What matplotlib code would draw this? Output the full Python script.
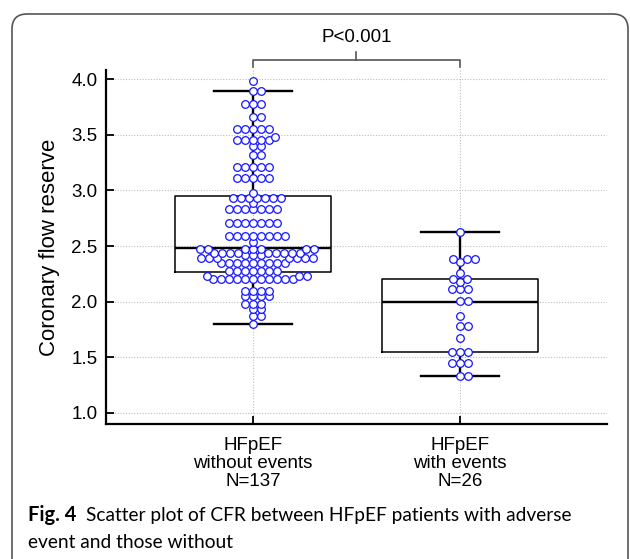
import numpy as np
import matplotlib
matplotlib.use("Agg")
import matplotlib.pyplot as plt
from matplotlib.patches import FancyBboxPatch
from matplotlib.transforms import blended_transform_factory

group_labels = ["HFpEF\nwithout events\nN=137", "HFpEF\nwith events\nN=26"]
positions = [1, 2]

no_event_levels = [3.98, 3.89, 3.78, 3.66, 3.55, 3.48, 3.45, 3.40, 3.32, 3.21, 3.11,
                   2.98, 2.93, 2.89, 2.83, 2.71, 2.59, 2.54,
                   2.47, 2.44, 2.42, 2.39, 2.35, 2.28, 2.23, 2.20, 2.10, 2.05,
                   1.98, 1.93, 1.87, 1.80]
no_event_counts = [1, 2, 3, 2, 5, 1, 5, 2, 2, 5, 5,
                   1, 7, 1, 7, 7, 8, 1,
                   7, 9, 3, 7, 9, 7, 3, 11, 4, 4,
                   3, 2, 2, 1]
event_levels = [2.63, 2.38, 2.36, 2.26, 2.20, 2.18, 2.11, 2.01, 1.87, 1.78, 1.67, 1.55, 1.45, 1.33]
event_counts = [1, 3, 1, 1, 2, 1, 3, 2, 1, 2, 1, 3, 3, 2]

# box plot summary as drawn in the figure
box_low = [1.80, 1.33]
box_q1 = [2.27, 1.55]
box_med = [2.48, 2.00]
box_q3 = [2.95, 2.20]
box_high = [3.89, 2.63]

no_event = np.repeat(no_event_levels, no_event_counts)
event = np.repeat(event_levels, event_counts)

plt.rcParams["font.family"] = ["Liberation Sans", "DejaVu Sans"]


def swarm_x(values, ax, center, wx, wy):
    # beeswarm in pixel space with an elliptic keep-out zone,
    # each point goes as close to the centre line as it can
    tr = ax.transData
    x0 = tr.transform((center, 0))[0]
    vals = np.sort(values)
    ys = [tr.transform((center, v))[1] for v in vals]
    placed = []
    for y in ys:
        step = 0.0
        found = None
        while found is None:
            for cand in ([step] if step == 0 else [step, -step]):
                if all(((cand - px) / wx) ** 2 + ((y - py) / wy) ** 2 >= 1 for px, py in placed):
                    found = cand
                    break
            step += 0.25
        placed.append((found, y))
    inv = tr.inverted()
    xs = [inv.transform((x0 + px, py))[0] for px, py in placed]
    return np.array(xs), vals


fig = plt.figure(figsize=(6.3, 5.59), dpi=100)
ax = fig.add_axes([106 / 630, 1 - 424 / 559, 501 / 630, 354 / 559])
ax.set_xlim(0.29, 2.71)
ax.set_ylim(0.901, 4.082)

ax.grid(True, color="#bdbdbd", linestyle=(0, (1, 1.5)), linewidth=0.8)
ax.set_axisbelow(True)

stats = []
for i in range(2):
    stats.append(dict(whislo=box_low[i], q1=box_q1[i], med=box_med[i],
                      q3=box_q3[i], whishi=box_high[i]))
ax.bxp(stats, positions=positions, widths=0.75, capwidths=0.375, showfliers=False,
       boxprops=dict(color="black", linewidth=1.1),
       medianprops=dict(color="black", linewidth=1.7),
       whiskerprops=dict(color="black", linewidth=1.7),
       capprops=dict(color="black", linewidth=1.7))

for pos, data in zip(positions, [no_event, event]):
    xs, ys = swarm_x(data, ax, pos, 7.8, 5.2)
    ax.plot(xs, ys, "o", ls="none", mfc="white", mec="#1414ff", ms=5.5, mew=0.9, zorder=3)

ax.set_yticks(np.arange(1.0, 4.01, 0.5))
ax.set_yticklabels([f"{v:.1f}" for v in np.arange(1.0, 4.01, 0.5)])
ax.set_xticks(positions)
ax.set_xticklabels(group_labels, linespacing=1.1)
ax.tick_params(direction="in", length=6, width=1.3, labelsize=13.5, pad=6)
ax.tick_params(axis="x", pad=9)

for s in ["top", "right"]:
    ax.spines[s].set_visible(False)
for s in ["left", "bottom"]:
    ax.spines[s].set_linewidth(1.6)

ax.set_ylabel("Coronary flow reserve", fontsize=16)
ax.yaxis.set_label_coords(-0.092, 0.5)

# significance bracket
bt = blended_transform_factory(ax.transData, fig.transFigure)
y_bar = 1 - 60 / 559
y_end = 1 - 67 / 559
y_tip = 1 - 52 / 559
ax.plot([1, 1, 2, 2], [y_end, y_bar, y_bar, y_end], color="#555555", lw=1.2,
        transform=bt, clip_on=False)
ax.plot([1.5, 1.5], [y_bar, y_tip], color="#555555", lw=1.2, transform=bt, clip_on=False)
ax.text(1.5, 1 - 38 / 559, "P<0.001", fontsize=13.5, ha="center", va="center", transform=bt)

# panel frame and caption
frame = FancyBboxPatch((0.12, -0.3), 6.16, 5.75, boxstyle="round,pad=0,rounding_size=0.15",
                       transform=fig.dpi_scale_trans, fill=False, edgecolor="#555555", lw=1.2)
fig.patches.append(frame)
fig.text(28 / 630, 1 - 521 / 559, "Fig. 4", fontsize=14.5, fontweight="bold",
         family=["Lato", "DejaVu Sans"], va="baseline")
fig.text(86 / 630, 1 - 521 / 559, "Scatter plot of CFR between HFpEF patients with adverse",
         fontsize=13.8, family=["Lato", "DejaVu Sans"], va="baseline")
fig.text(28 / 630, 1 - 548 / 559, "event and those without",
         fontsize=13.8, family=["Lato", "DejaVu Sans"], va="baseline")

fig.savefig("out.png", dpi=100)
